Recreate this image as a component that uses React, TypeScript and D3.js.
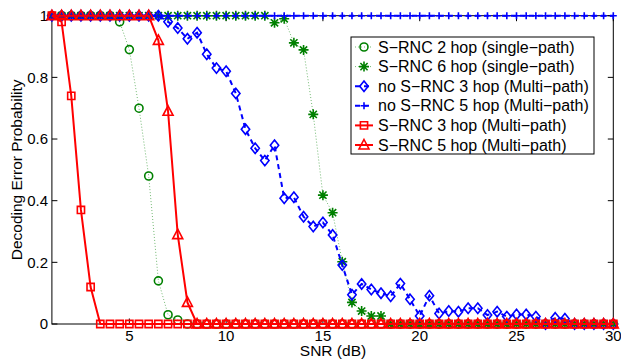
import React from "react";
import * as d3 from "d3";

const snr = [1, 1.5, 2, 2.5, 3, 3.5, 4, 4.5, 5, 5.5, 6, 6.5, 7, 7.5, 8, 8.5, 9, 9.5, 10, 10.5, 11, 11.5, 12, 12.5, 13, 13.5, 14, 14.5, 15, 15.5, 16, 16.5, 17, 17.5, 18, 18.5, 19, 19.5, 20, 20.5, 21, 21.5, 22, 22.5, 23, 23.5, 24, 24.5, 25, 25.5, 26, 26.5, 27, 27.5, 28, 28.5, 29, 29.5, 30];

const srnc2hopSingle = [1, 1, 1, 1, 1, 1, 1, 0.98, 0.89, 0.7, 0.48, 0.14, 0.03, 0.013, 0, 0, 0, 0, 0, 0, 0, 0, 0, 0, 0, 0, 0, 0, 0, 0, 0, 0, 0, 0, 0, 0, 0, 0, 0, 0, 0, 0, 0, 0, 0, 0, 0, 0, 0, 0, 0, 0, 0, 0, 0, 0, 0, 0, 0];
const srnc6hopSingle = [1, 1, 1, 1, 1, 1, 1, 1, 1, 1, 1, 1, 1, 1, 1, 1, 1, 1, 1, 1, 1, 1, 1, 0.977, 0.99, 0.912, 0.889, 0.68, 0.418, 0.361, 0.202, 0.07, 0.042, 0.026, 0.026, 0, 0, 0, 0, 0, 0, 0, 0, 0, 0, 0, 0, 0, 0, 0, 0, 0, 0, 0, 0, 0, 0, 0, 0];
const noSrnc3hopMulti = [1, 1, 1, 1, 1, 1, 1, 1, 1, 1, 1, 1, 0.98, 0.96, 0.925, 0.945, 0.875, 0.83, 0.82, 0.748, 0.632, 0.57, 0.53, 0.58, 0.408, 0.411, 0.348, 0.316, 0.329, 0.289, 0.191, 0.095, 0.13, 0.112, 0.1, 0.09, 0.131, 0.08, 0.026, 0.092, 0.034, 0.042, 0.04, 0.051, 0.051, 0.029, 0.04, 0.024, 0.031, 0.031, 0.024, 0, 0.02, 0.017, 0, 0, 0, 0, 0];
const noSrnc5hopMulti = [1, 1, 1, 1, 1, 1, 1, 1, 1, 1, 1, 1, 1, 1, 1, 1, 1, 1, 1, 1, 1, 1, 1, 1, 1, 1, 1, 1, 1, 1, 1, 1, 1, 1, 1, 1, 1, 1, 1, 1, 1, 1, 1, 1, 1, 1, 1, 1, 1, 1, 1, 1, 1, 1, 1, 1, 1, 1, 1];
const srnc3hopMulti = [1, 0.98, 0.74, 0.37, 0.12, 0, 0, 0, 0, 0, 0, 0, 0, 0, 0, 0, 0, 0, 0, 0, 0, 0, 0, 0, 0, 0, 0, 0, 0, 0, 0, 0, 0, 0, 0, 0, 0, 0, 0, 0, 0, 0, 0, 0, 0, 0, 0, 0, 0, 0, 0, 0, 0, 0, 0, 0, 0, 0, 0];
const srnc5hopMulti = [1, 1, 1, 1, 1, 1, 1, 1, 1, 1, 1, 0.92, 0.69, 0.29, 0.07, 0, 0, 0, 0, 0, 0, 0, 0, 0, 0, 0, 0, 0, 0, 0, 0, 0, 0, 0, 0, 0, 0, 0, 0, 0, 0, 0, 0, 0, 0, 0, 0, 0, 0, 0, 0, 0, 0, 0, 0, 0, 0, 0, 0];

const seriesNames = [
  "S\u2212RNC 2 hop (single\u2212path)",
  "S\u2212RNC 6 hop (single\u2212path)",
  "no S\u2212RNC 3 hop (Multi\u2212path)",
  "no S\u2212RNC 5 hop (Multi\u2212path)",
  "S\u2212RNC 3 hop (Multi\u2212path)",
  "S\u2212RNC 5 hop (Multi\u2212path)",
];
const xTicks = [5, 10, 15, 20, 25, 30];
const yTicks = [0, 0.2, 0.4, 0.6, 0.8, 1];
const xLabel = "SNR (dB)";
const yLabel = "Decoding Error Probability";

type Marker = "circle" | "star" | "diamond" | "plus" | "square" | "triangle";

const GREEN = "#008000";
const BLUE = "#0000ff";
const RED = "#ff0000";

const series = [
  { name: seriesNames[0], values: srnc2hopSingle, color: GREEN, marker: "circle" as Marker, dash: "1,2", lw: 1, lineOpacity: 0.55 },
  { name: seriesNames[1], values: srnc6hopSingle, color: GREEN, marker: "star" as Marker, dash: "1,2", lw: 1, lineOpacity: 0.55 },
  { name: seriesNames[2], values: noSrnc3hopMulti, color: BLUE, marker: "diamond" as Marker, dash: "5,4", lw: 2, lineOpacity: 1 },
  { name: seriesNames[3], values: noSrnc5hopMulti, color: BLUE, marker: "plus" as Marker, dash: "5,4", lw: 2, lineOpacity: 1 },
  { name: seriesNames[4], values: srnc3hopMulti, color: RED, marker: "square" as Marker, dash: "", lw: 2, lineOpacity: 1 },
  { name: seriesNames[5], values: srnc5hopMulti, color: RED, marker: "triangle" as Marker, dash: "", lw: 2, lineOpacity: 1 },
];

function markerPath(m: Marker, cx: number, cy: number): string {
  switch (m) {
    case "circle": {
      const r = 4;
      return `M${cx - r},${cy}a${r},${r} 0 1,0 ${2 * r},0a${r},${r} 0 1,0 ${-2 * r},0Z`;
    }
    case "square": {
      const h = 3.6;
      return `M${cx - h},${cy - h}H${cx + h}V${cy + h}H${cx - h}Z`;
    }
    case "triangle": {
      return `M${cx},${cy - 5.5}L${cx + 5},${cy + 4}L${cx - 5},${cy + 4}Z`;
    }
    case "diamond": {
      const w = 4.2, h = 5.2;
      return `M${cx},${cy - h}L${cx + w},${cy}L${cx},${cy + h}L${cx - w},${cy}Z`;
    }
    case "plus": {
      const h = 3.5;
      return `M${cx - h},${cy}H${cx + h}M${cx},${cy - h}V${cy + h}`;
    }
    case "star": {
      const h = 5, d = 3.6;
      return `M${cx - h},${cy}H${cx + h}M${cx},${cy - h}V${cy + h}M${cx - d},${cy - d}L${cx + d},${cy + d}M${cx - d},${cy + d}L${cx + d},${cy - d}`;
    }
  }
  return "";
}

const W = 621, H = 360;
const left = 51.9, right = 613.3, top = 15.7, bottom = 324;
const FONT = "'Liberation Sans', Arial, Helvetica, sans-serif";

export default function App() {
  const x = d3.scaleLinear().domain([1, 30]).range([left, right]);
  const y = d3.scaleLinear().domain([0, 1]).range([bottom, top]);
  const line = d3.line<number>().x((_, i) => x(snr[i])).y((v) => y(v));

  const legX = 351, legY = 37, legW = 243, legH = 117;
  const rowY = (i: number) => 47 + i * 19.6;

  return (
    <svg width={W} height={H} style={{ position: "absolute", left: 0, top: 0, background: "#fff" }} fontFamily={FONT}>
      <rect x={0} y={0} width={W} height={H} fill="#fff" />
      {xTicks.map((t) => (
        <g key={"xt" + t}>
          <line x1={x(t)} x2={x(t)} y1={bottom} y2={bottom - 5.5} stroke="#000" strokeWidth={1} />
          <line x1={x(t)} x2={x(t)} y1={top} y2={top + 5.5} stroke="#000" strokeWidth={1} />
          <text x={x(t)} y={340.5} fontSize={15} textAnchor="middle" fill="#000">{t}</text>
        </g>
      ))}
      {yTicks.map((t) => (
        <g key={"yt" + t}>
          <line x1={left} x2={left + 5.5} y1={y(t)} y2={y(t)} stroke="#000" strokeWidth={1} />
          <line x1={right} x2={right - 5.5} y1={y(t)} y2={y(t)} stroke="#000" strokeWidth={1} />
          <text x={48} y={y(t) + 5.3} fontSize={15} textAnchor="end" fill="#000">{t}</text>
        </g>
      ))}
      <rect x={left} y={top} width={right - left} height={bottom - top} fill="none" stroke="#000" strokeWidth={1} />
      <text x={333} y={356} fontSize={15.5} textAnchor="middle" fill="#000">{xLabel}</text>
      <text transform={`translate(21.5,${(top + bottom) / 2}) rotate(-90)`} fontSize={15.5} textAnchor="middle" fill="#000">{yLabel}</text>

      {series.map((s, si) => (
        <g key={"s" + si}>
          <path d={line(s.values) || ""} fill="none" stroke={s.color} strokeWidth={s.lw} strokeDasharray={s.dash || undefined} strokeOpacity={s.lineOpacity} />
          <path
            d={s.values.map((v, i) => markerPath(s.marker, x(snr[i]), y(v))).join("")}
            fill="none"
            stroke={s.color}
            strokeWidth={1.6}
          />
        </g>
      ))}

      <rect x={legX} y={legY} width={legW} height={legH} fill="#fff" stroke="#000" strokeWidth={1} />
      {series.map((s, i) => (
        <g key={"l" + i}>
          <line x1={355} x2={373} y1={rowY(i)} y2={rowY(i)} stroke={s.color} strokeWidth={s.lw} strokeDasharray={s.dash || undefined} strokeOpacity={s.lineOpacity} />
          <path d={markerPath(s.marker, 364, rowY(i))} fill="none" stroke={s.color} strokeWidth={1.6} />
          <text x={378} y={rowY(i) + 5.5} fontSize={16} fill="#000">{s.name}</text>
        </g>
      ))}
    </svg>
  );
}
